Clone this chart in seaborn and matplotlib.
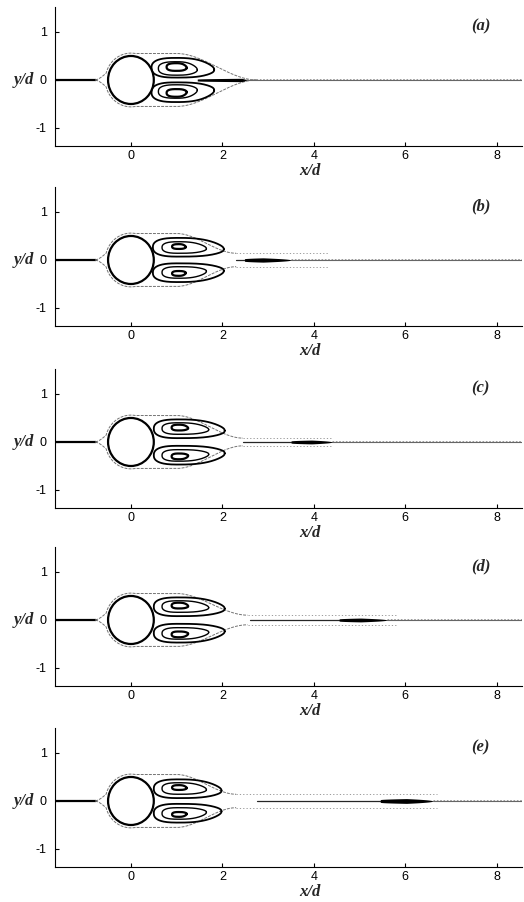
import numpy as np
import matplotlib
matplotlib.use("Agg")
import matplotlib.pyplot as plt
from matplotlib.patches import Circle
import seaborn as sns

# ---- case labels and axis ticks ----
panel_tags = ["(a)", "(b)", "(c)", "(d)", "(e)"]
x_ticks = [0, 2, 4, 6, 8]
y_ticks = [-1, 0, 1]
x_limits = (-1.66, 8.55)
y_limits = (-1.375, 1.52)

# ---- recirculation loops (upper half; lower half is the mirror) ----
# each entry: (x_left, x_right, y_low, y_high)
outer_loops = [(0.45, 1.82, 0.05, 0.46), (0.48, 2.03, 0.07, 0.46),
               (0.50, 2.05, 0.08, 0.47), (0.50, 2.05, 0.08, 0.47),
               (0.50, 1.98, 0.06, 0.45)]
middle_loops = [(0.60, 1.45, 0.10, 0.38), (0.68, 1.65, 0.14, 0.38),
                (0.68, 1.70, 0.16, 0.40), (0.68, 1.70, 0.16, 0.40),
                (0.68, 1.65, 0.14, 0.38)]
inner_loops = [(0.78, 1.22, 0.19, 0.35), (0.90, 1.20, 0.23, 0.33),
               (0.89, 1.25, 0.24, 0.36), (0.89, 1.25, 0.24, 0.36),
               (0.90, 1.22, 0.23, 0.33)]
vortex_x = [1.00, 1.05, 1.05, 1.05, 1.05]

# ---- dividing streamline around the near wake ----
env_close_x = [2.75, 2.30, 2.45, 2.55, 2.30]
env_tail_y = [0.00, 0.14, 0.08, 0.10, 0.14]
env_tail_end = [2.75, 4.30, 4.40, 5.80, 6.70]

# ---- wake centreline and dye streak ----
centerline_start = [1.45, 2.30, 2.45, 2.60, 2.75]
streak_start = [1.45, 2.48, 3.50, 4.55, 5.45]
streak_end = [2.52, 3.50, 4.40, 5.60, 6.60]
streak_half = [0.035, 0.045, 0.040, 0.040, 0.050]
streak_peak = [0.90, 0.40, 0.50, 0.45, 0.50]

cylinder_radius = 0.5

sns.set_theme(style="ticks")
plt.rcParams["font.family"] = ["Liberation Sans", "DejaVu Sans"]

serif = ["Liberation Serif", "DejaVu Serif"]
label_font = dict(family=serif, weight="bold", style="italic", size=12)


def loop_outline(xl, xr, yl, yh, xc, n=240):
    t = np.linspace(0, 2 * np.pi, n)
    c, s = np.cos(t), np.sin(t)
    right = c >= 0
    x = np.where(right, xc + (xr - xc) * np.abs(c) ** 0.85,
                 xc - (xc - xl) * np.abs(c) ** 0.7)
    ym = 0.5 * (yl + yh)
    h = 0.5 * (yh - yl)
    squeeze = np.where(right, 1 - 0.30 * c ** 3, 1.0)
    shift = np.where(right, -0.2 * h * c ** 2, 0.0)
    y = ym + shift + h * np.sign(s) * np.abs(s) ** 0.8 * squeeze
    return x, y


def envelope(x_close, tail_y):
    th = np.deg2rad(np.linspace(165, 80, 40))
    xa, ya = 0.56 * np.cos(th), 0.56 * np.sin(th)
    xf = np.linspace(-0.78, xa[0], 12)
    yf = ya[0] * ((xf + 0.78) / (xa[0] + 0.78)) ** 1.5
    xr = np.linspace(xa[-1], x_close, 80)
    s = np.clip((xr - 1.0) / (x_close - 1.0), 0, 1)
    yr = ya[-1] + (tail_y - ya[-1]) * s * s * (3 - 2 * s)
    return (np.concatenate([xf, xa, xr[1:]]),
            np.concatenate([yf, ya, yr[1:]]))


def streak_shape(x0, x1, half, peak, n=120):
    x = np.linspace(x0, x1, n)
    u = (x - x0) / (x1 - x0)
    left = np.sqrt(np.clip(u / peak, 0, 1))
    right = np.sqrt(np.clip((1 - u) / (1 - peak), 0, 1))
    w = half * np.where(u <= peak, 0.55 + 0.45 * left, right)
    return x, w


fig = plt.figure(figsize=(5.24, 9.02), dpi=100)
W, H = 524.0, 902.0
offsets = [0, 180, 362, 540, 721]

for i, tag in enumerate(panel_tags):
    top_px = 7 + offsets[i]
    ax = fig.add_axes([55 / W, 1 - (top_px + 139) / H, 467 / W, 139 / H])
    ax.set_xlim(*x_limits)
    ax.set_ylim(*y_limits)

    # upstream stagnation streamline
    sns.lineplot(x=[x_limits[0], -0.76], y=[0, 0], color="black",
                 lw=1.6, ax=ax)

    # dividing streamline (upper and lower)
    ex, ey = envelope(env_close_x[i], env_tail_y[i])
    for sign in (1, -1):
        sns.lineplot(x=ex, y=sign * ey, sort=False, estimator=None,
                     color="0.45", lw=0.7, ls=(0, (3, 1.2)), ax=ax)
        if env_tail_end[i] > env_close_x[i]:
            sns.lineplot(x=[env_close_x[i], env_tail_end[i]],
                         y=[sign * env_tail_y[i]] * 2,
                         color="0.55", lw=0.6, ls=(0, (1.5, 2.5)), ax=ax)

    # recirculation loops
    for loops, lw in ((outer_loops, 1.3), (middle_loops, 1.0),
                      (inner_loops, 1.6)):
        xl, xr, yl, yh = loops[i]
        lx, ly = loop_outline(xl, xr, yl, yh, vortex_x[i])
        for sign in (1, -1):
            sns.lineplot(x=lx, y=sign * ly, sort=False, estimator=None,
                         color="black", lw=lw, ax=ax)

    # wake centreline before and after the streak
    sns.lineplot(x=[centerline_start[i], streak_start[i]], y=[0, 0],
                 color="0.15", lw=0.9, ax=ax)
    sns.lineplot(x=[streak_end[i], x_limits[1]], y=[0, 0],
                 color="0.4", lw=0.8, ax=ax)
    sns.lineplot(x=[streak_end[i], x_limits[1]], y=[0.012, 0.012],
                 color="0.55", lw=0.6, ls=(0, (2, 2)), ax=ax)

    # dye streak
    sx, sw = streak_shape(streak_start[i], streak_end[i],
                          streak_half[i], streak_peak[i])
    ax.fill_between(sx, -sw, sw, color="black", lw=0, zorder=4)

    # cylinder
    ax.add_patch(Circle((0, 0), cylinder_radius, facecolor="white",
                        edgecolor="black", lw=1.6, zorder=5))

    # axes dressing
    sns.despine(ax=ax)
    for side in ("left", "bottom"):
        ax.spines[side].set_color("black")
        ax.spines[side].set_linewidth(0.8)
    ax.set_xticks(x_ticks)
    ax.set_yticks(y_ticks)
    ax.set_xticklabels([str(v) for v in x_ticks])
    ax.set_yticklabels([str(v) for v in y_ticks])
    ax.tick_params(direction="in", length=3, width=0.8, labelsize=9,
                   colors="black")
    ax.tick_params(axis="x", pad=3)
    ax.tick_params(axis="y", pad=6)

    ax.set_xlabel("x/d", fontdict=label_font)
    ax.xaxis.set_label_coords(0.546, -0.122)
    ax.xaxis.label.set_va("top")
    ax.set_ylabel("y/d", fontdict=label_font, rotation=0)
    ax.yaxis.set_label_coords(-0.045, 0.475)
    ax.yaxis.label.set_ha("right")
    ax.yaxis.label.set_va("center")

    ax.text(7.65, 1.12, tag, ha="center", va="center", family=serif,
            weight="bold", style="italic", size=12)

fig.savefig("out.png", dpi=100, facecolor="white")
